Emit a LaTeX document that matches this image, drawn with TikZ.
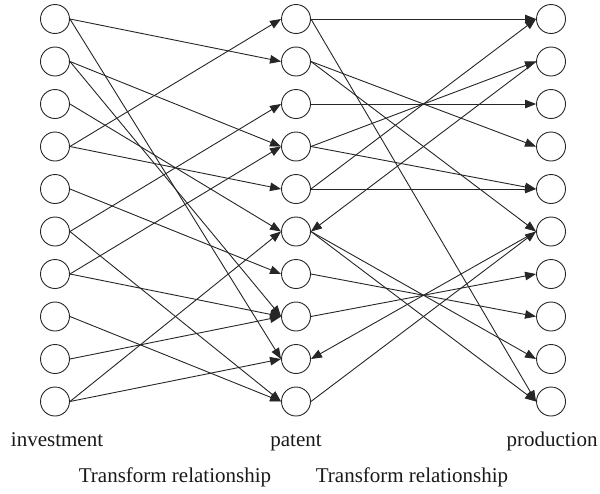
\documentclass[tikz,border=0pt]{standalone}
\usepackage{fontspec}
\setmainfont{Liberation Serif}
\usetikzlibrary{arrows.meta}
\begin{document}
\begin{tikzpicture}[x=1pt,y=-1pt,
  nd/.style={circle,draw=black!85,line width=0.9pt,minimum size=29pt,inner sep=0pt},
  ed/.style={draw=black!85,line width=0.9pt,-{Triangle[length=11pt,width=8.5pt]}},
  lbl/.style={font=\fontsize{21}{24}\selectfont,inner sep=0pt,text=black!90}]
\useasboundingbox (0,0) rectangle (600,493);
\foreach \i in {1,...,10}{
  \node[nd] (L\i) at (55,{19+42.5*(\i-1)}) {};
  \node[nd] (P\i) at (296,{19+42.5*(\i-1)}) {};
  \node[nd] (R\i) at (551,{19+42.5*(\i-1)}) {};
}
% investment -> patent
\foreach \a/\b in {1/2,1/9,2/4,2/8,3/6,4/1,4/5,5/7,6/3,6/10,7/4,7/8,8/10,9/8,10/6,10/9}{
  \draw[ed] (L\a.east) -- (P\b.west);
}
% patent -> production
\foreach \a/\b in {1/1,1/10,2/4,2/6,3/3,4/2,4/5,5/1,5/5,6/9,6/10,7/8,8/7,10/6}{
  \draw[ed] (P\a.east) -- (R\b.west);
}
% production -> patent
\draw[ed] (R2.west) -- (P6.east);
\draw[ed] (R6.west) -- (P9.east);
% labels
\node[lbl,anchor=base] (t1) at (57,446) {investment};
\node[lbl,anchor=base] (t2) at (296,446) {patent};
\node[lbl,anchor=base] (t3) at (552,446) {production};
\node[lbl,anchor=base] (t4) at (175,482) {Transform relationship};
\node[lbl,anchor=base] (t5) at (412,482) {Transform relationship};
\end{tikzpicture}
\end{document}
